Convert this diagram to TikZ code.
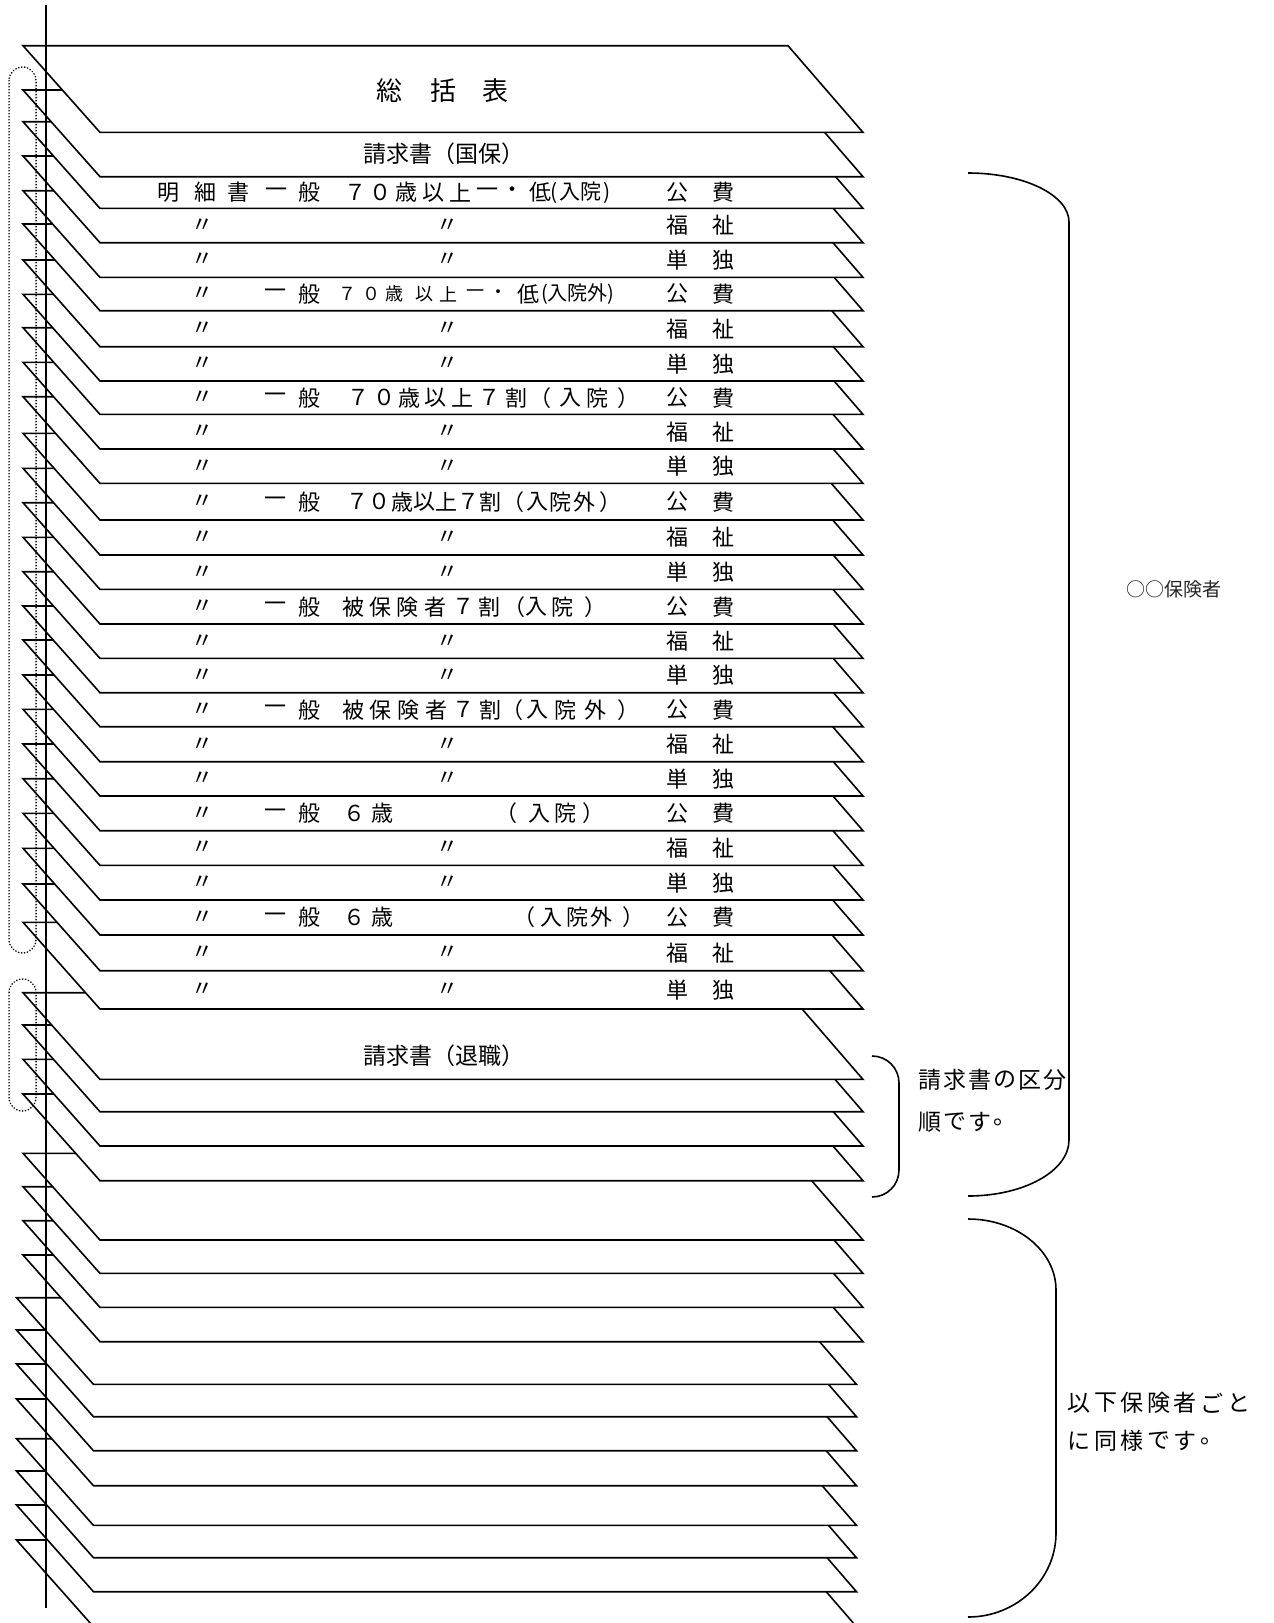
\documentclass[tikz,border=0pt]{standalone}
\usepackage{fontspec}
\setmainfont{Noto Sans CJK JP}
\begin{document}
\begin{tikzpicture}[x=1pt,y=-1pt,
  sheetpoly/.style={draw=black,line width=1.6pt,fill=white,line join=miter},
  rt/.style={inner sep=0pt,anchor=center,font=\fontsize{22}{22}\selectfont},
  rs/.style={inner sep=0pt,anchor=center,font=\fontsize{18}{18}\selectfont},
  rp/.style={inner sep=0pt,anchor=west,font=\fontsize{20}{20}\selectfont},
  bigt/.style={inner sep=0pt,anchor=center,font=\fontsize{26}{26}\selectfont},
  headt/.style={inner sep=0pt,anchor=west,font=\fontsize{23}{23}\selectfont},
  notech/.style={inner sep=0pt,anchor=center,font=\fontsize{23}{23}\selectfont},
  bracketline/.style={draw=black,line width=1.6pt},
  binder/.style={draw=black,line width=2pt},
  dotring/.style={draw=black,line width=1.5pt,line cap=round,dash pattern=on 0.4pt off 2.6pt}]
\useasboundingbox (0,0) rectangle (1274,1623);
\clip (0,0) rectangle (1274,1623);
% sheets, drawn from the lowest to the top one
\foreach \t/\d in {1540/-6.5,1505/-6.5,1471/-6.5,1438.7/-6.5,1399/-6.5,1364/-6.5,1330/-6.5,1297.7/-6.5,
  1255/0,1220.7/0,1186.7/0,1153.3/0,1094/0,1059.3/0,1025/0,992.7/0,922.3/0,884/0,848.3/0,813.3/0,
  778.7/0,744/0,709.3/0,675/0,640/0,606/0,571.7/0,537.3/0,502.7/0,468.3/0,433.3/0,396.7/0,362.3/0,
  327.7/0,294.3/0,260/0,224/0,190.7/0,156/0,121.7/0,90/0,45.7/0}
  \path[sheetpoly] ({23+\d},\t) -- ({788+\d},\t) -- ({863+\d},{\t+86.7}) -- ({100+\d},{\t+86.7}) -- cycle;
% binding line
\coordinate (bindtop) at (46,5);
\coordinate (bindbot) at (46,1608);
\draw[binder] (bindtop) -- (bindbot);
% dotted rings
\draw[dotring,rounded corners=13.5pt] (9,67) rectangle (36,953);
\draw[dotring,rounded corners=13.5pt] (9,979) rectangle (36,1111);
% sheet 1 and 2 titles
\node[bigt] (s1a) at (389,91) {総};
\node[bigt] (s1b) at (443,91) {括};
\node[bigt] (s1c) at (495,91) {表};
\node[headt] (s2) at (363,154) {請求書（国保）};
\node[headt] (s27) at (363,1056) {請求書（退職）};
% row 3
\foreach \x/\c [count=\i] in {168/明,205/細,238/書,276/一,309/般,355/７,380/０,406/歳,433/以,460/上,487/一,512/・,540/低}
  \node[rt] (r3c\i) at (\x,192.5) {\c};
\node[rp,font=\fontsize{21}{21}\selectfont] (r3p) at (550,192.5) {(\kern2pt 入院\kern2pt)};
% rows with two ditto marks
\foreach \y/\a/\b [count=\i] in {225.5/福/祉,260/単/独,328.7/福/祉,363.8/単/独,431.7/福/祉,466.2/単/独,
  537.5/福/祉,572.2/単/独,641.2/福/祉,675.5/単/独,744.2/福/祉,778.8/単/独,848/福/祉,882.7/単/独,
  952.8/福/祉,989.8/単/独}{
  \node[rt] (dA\i) at (202,\y) {〃};
  \node[rt] (dB\i) at (447,\y) {〃};
  \node[rt] (dC\i) at (677,\y) {\a};
  \node[rt] (dD\i) at (723,\y) {\b};
}
% rows with 一般
\foreach \y [count=\i] in {192.5,294,397.7,501.7,606.7,709.7,813.3,917.5}{
  \node[rt] (kA\i) at (677,\y) {公};
  \node[rt] (kB\i) at (723,\y) {費};
}
\foreach \y [count=\i] in {294,397.7,501.7,606.7,709.7,813.3,917.5}{
  \node[rt] (gA\i) at (202,\y) {〃};
  \node[rt] (gB\i) at (275,\y) {一};
  \node[rt] (gC\i) at (309,\y) {般};
}
% row 6
\foreach \x/\c [count=\i] in {347/７,371/０,394/歳,424/以,448/上,475/一,498/・}
  \node[rs] (r6c\i) at (\x,294) {\c};
\node[rt] (r6d) at (528,294) {低};
\node[rp] (r6p) at (541,294) {(入院外)};
% row 9
\foreach \x/\c [count=\i] in {358/７,384/０,409/歳,435/以,462/上,489/７,516/割,540/（,570/入,597/院,628/）}
  \node[rt] (r9c\i) at (\x,397.7) {\c};
% row 12
\foreach \x/\c [count=\i] in {357/７,379/０,402/歳,424/以,446/上,468/７,490/割,513/（,537/入,560/院,584/外,610/）}
  \node[rt] (r12c\i) at (\x,501.7) {\c};
% row 15
\foreach \x/\c [count=\i] in {353/被,380/保,407/険,435/者,463/７,489/割,514/（,536/入,562/院,595/）}
  \node[rt] (r15c\i) at (\x,606.7) {\c};
% row 18
\foreach \x/\c [count=\i] in {353/被,380/保,408/険,436/者,463/７,490/割,512/（,537/入,565/院,595/外,628/）}
  \node[rt] (r18c\i) at (\x,709.7) {\c};
% row 21
\foreach \x/\c [count=\i] in {354/６,382/歳,506/（,539/入,565/院,593/）}
  \node[rt] (r21c\i) at (\x,813.3) {\c};
% row 24
\foreach \x/\c [count=\i] in {354/６,382/歳,524/（,551/入,577/院,601/外,633/）}
  \node[rt] (r24c\i) at (\x,917.5) {\c};
% brackets on the right
\draw[bracketline] (968,173) .. controls (1024,173) and (1069,195) .. (1069,222)
  -- (1069,1140) .. controls (1069,1171) and (1024,1196) .. (968,1196);
\draw[bracketline] (872,1056) .. controls (887,1056) and (899,1068) .. (899,1083)
  -- (899,1170) .. controls (899,1185) and (887,1197) .. (872,1197);
\draw[bracketline] (968,1219) .. controls (1017,1219) and (1056,1251) .. (1056,1290)
  -- (1056,1533) .. controls (1056,1579) and (1017,1617) .. (968,1617);
% notes
\node[inner sep=0pt,anchor=west,font=\fontsize{19}{19}\selectfont,text=black!85] (hoken) at (1126,589) {○○保険者};
\foreach \c [count=\i from 0] in {請,求,書,の,区,分}
  \node[notech] (na\i) at ({930+\i*25},1080) {\c};
\foreach \c [count=\i from 0] in {順,で,す,。}
  \node[notech] (nb\i) at ({930+\i*25},1122) {\c};
\foreach \c [count=\i from 0] in {以,下,保,険,者,ご,と}
  \node[notech] (nc\i) at ({1079+\i*26.6},1403) {\c};
\foreach \c [count=\i from 0] in {に,同,様,で,す,。}
  \node[notech] (nd\i) at ({1079+\i*26.6},1441) {\c};
\end{tikzpicture}
\end{document}
